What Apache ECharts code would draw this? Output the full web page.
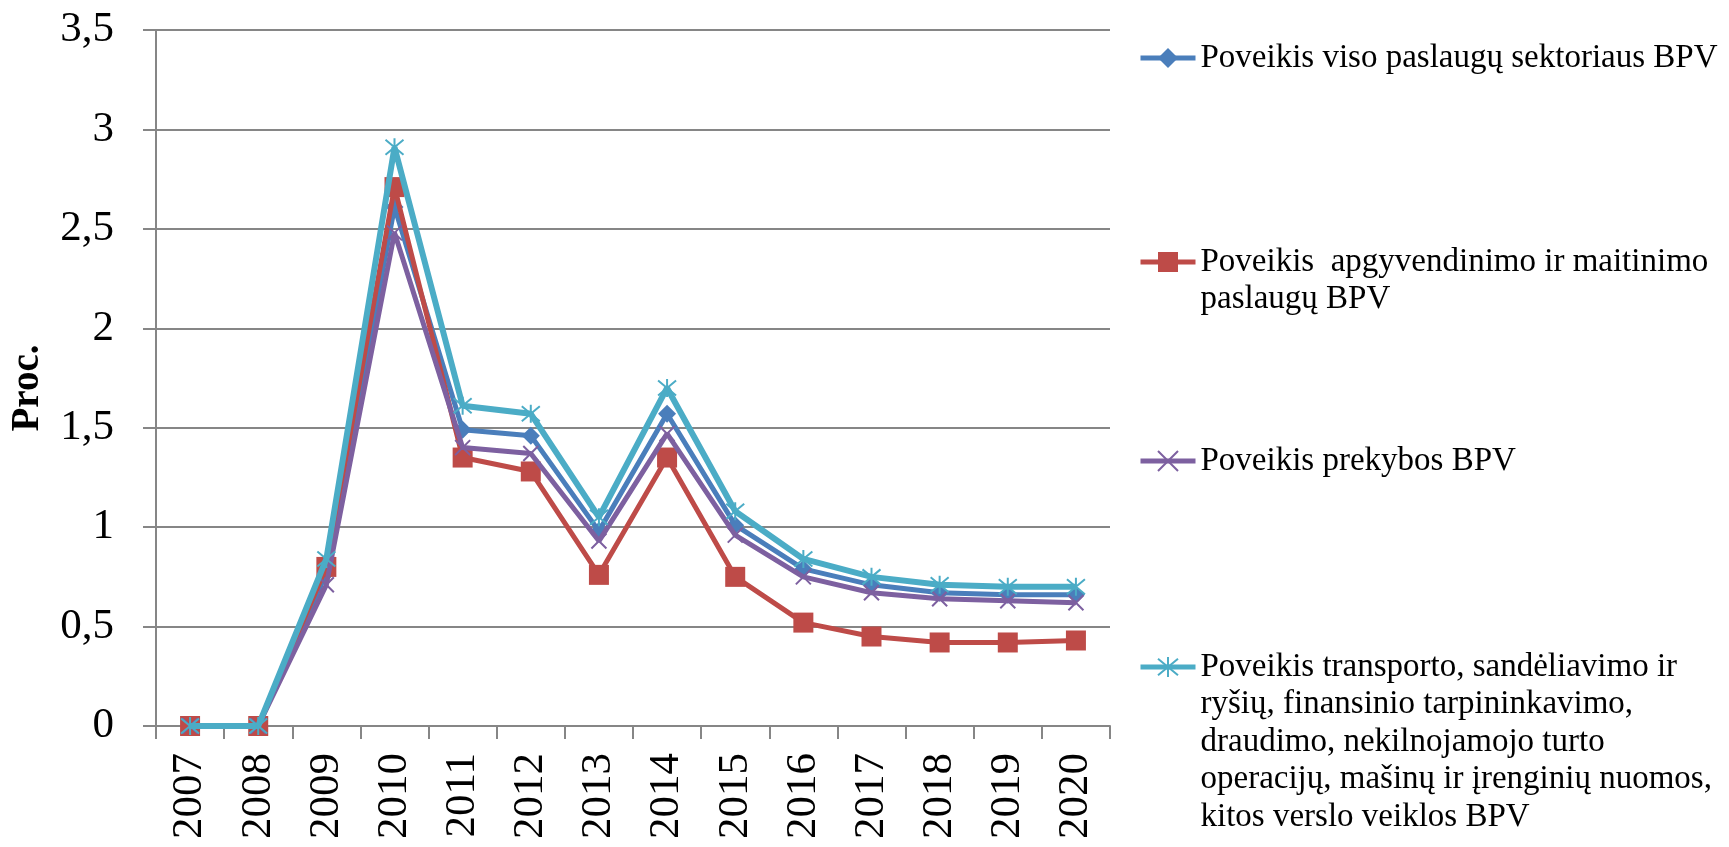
<!DOCTYPE html>
<html>
<head>
<meta charset="utf-8">
<script src="https://cdn.jsdelivr.net/npm/echarts@6/dist/echarts.min.js"></script>
<style>
  html, body { margin: 0; padding: 0; background: #fff; }
  #chart { width: 1729px; height: 847px; }
</style>
</head>
<body>
<div id="chart"></div>
<script>
// data
const years = ['2007', '2008', '2009', '2010', '2011', '2012', '2013', '2014', '2015', '2016', '2017', '2018', '2019', '2020'];
const visoPaslaugu = [0, 0, 0.77, 2.61, 1.49, 1.46, 0.98, 1.57, 1.01, 0.79, 0.71, 0.67, 0.66, 0.66];
const apgyvendinimo = [0, 0, 0.80, 2.71, 1.35, 1.28, 0.76, 1.35, 0.75, 0.52, 0.45, 0.42, 0.42, 0.43];
const prekybos = [0, 0, 0.71, 2.48, 1.40, 1.37, 0.93, 1.47, 0.96, 0.75, 0.67, 0.64, 0.63, 0.62];
const transporto = [0, 0, 0.84, 2.91, 1.61, 1.57, 1.05, 1.70, 1.08, 0.84, 0.75, 0.71, 0.70, 0.70];

const seriesNames = [
  'Poveikis viso paslaugų sektoriaus BPV',
  'Poveikis  apgyvendinimo ir maitinimo paslaugų BPV',
  'Poveikis prekybos BPV',
  'Poveikis transporto, sandėliavimo ir ryšių, finansinio tarpininkavimo, draudimo, nekilnojamojo turto operacijų, mašinų ir įrenginių nuomos, kitos verslo veiklos BPV'
];
// how the legend text is broken into lines
const legendLines = [
  ['Poveikis viso paslaugų sektoriaus BPV'],
  ['Poveikis  apgyvendinimo ir maitinimo', 'paslaugų BPV'],
  ['Poveikis prekybos BPV'],
  ['Poveikis transporto, sandėliavimo ir', 'ryšių, finansinio tarpininkavimo,', 'draudimo, nekilnojamojo turto', 'operacijų, mašinų ir įrenginių nuomos,', 'kitos verslo veiklos BPV']
];

const colors = ['#4A7EBB', '#BE4B48', '#7D60A0', '#4BACC6'];
const font = '"Liberation Serif", "DejaVu Serif", serif';
const lh = 37.5;
const xMark = 'path://M0,0L10,10M10,0L0,10';
const starMark = 'path://M0,0L10,10M10,0L0,10M5,-1L5,11';

let chart = echarts.init(document.getElementById('chart'));

// one legend per series; the icon should sit on the first text line,
// so empty lines are put in front to move the text block down
let firstLineY = [58, 262, 461, 667];
let legends = seriesNames.map((name, i) => {
  let n = legendLines[i].length;
  let blank = new Array(n - 1).fill('');
  return {
    orient: 'vertical',
    left: 1138,
    top: firstLineY[i] - (2 * n - 1) * lh / 2,
    padding: 0,
    itemWidth: 55,
    itemHeight: 25,
    selectedMode: false,
    data: [name],
    lineStyle: { width: 5 },
    formatter: () => blank.concat(legendLines[i]).join('\n'),
    textStyle: {
      fontFamily: font,
      fontSize: 33,
      color: '#000',
      lineHeight: lh
    }
  };
});

function lineSeries(i, values, symbol, size, stroked) {
  return {
    name: seriesNames[i],
    type: 'line',
    data: values,
    symbol: symbol,
    symbolSize: size,
    showAllSymbol: true,
    color: colors[i],
    lineStyle: { width: i == 3 ? 6 : 5, color: colors[i] },
    itemStyle: stroked
      ? { color: colors[i], borderColor: colors[i], borderWidth: 2 }
      : { color: colors[i] },
    emphasis: { disabled: true },
    z: 2 + i
  };
}

let option = {
  animation: false,
  backgroundColor: '#fff',
  legend: legends,
  grid: {
    left: 155,
    right: 619,
    top: 30,
    bottom: 121
  },
  xAxis: {
    type: 'category',
    data: years,
    boundaryGap: true,
    axisLine: { lineStyle: { color: '#868686', width: 2 } },
    axisTick: { show: true, interval: 0, length: 13, lineStyle: { color: '#868686', width: 2 } },
    axisLabel: {
      interval: 0,
      rotate: 90,
      margin: 27,
      fontFamily: font,
      fontSize: 43,
      color: '#000'
    }
  },
  yAxis: {
    type: 'value',
    min: 0,
    max: 3.5,
    interval: 0.5,
    name: 'Proc.',
    nameLocation: 'middle',
    nameGap: 109,
    nameTextStyle: {
      fontFamily: font,
      fontSize: 39,
      fontWeight: 'bold',
      color: '#000',
      padding: [0, 20, 0, 0]
    },
    axisLine: { show: true, lineStyle: { color: '#868686', width: 2 } },
    axisTick: { show: true, length: 13, lineStyle: { color: '#868686', width: 2 } },
    splitLine: { lineStyle: { color: '#868686', width: 2 } },
    axisLabel: {
      margin: 42,
      fontFamily: font,
      fontSize: 43,
      color: '#000',
      formatter: (v) => String(v).replace('.', ',')
    }
  },
  series: [
    lineSeries(0, visoPaslaugu, 'diamond', 18, false),
    lineSeries(1, apgyvendinimo, 'rect', 20, false),
    lineSeries(2, prekybos, xMark, 15, true),
    lineSeries(3, transporto, starMark, 18, true)
  ]
};

chart.setOption(option);
</script>
</body>
</html>
